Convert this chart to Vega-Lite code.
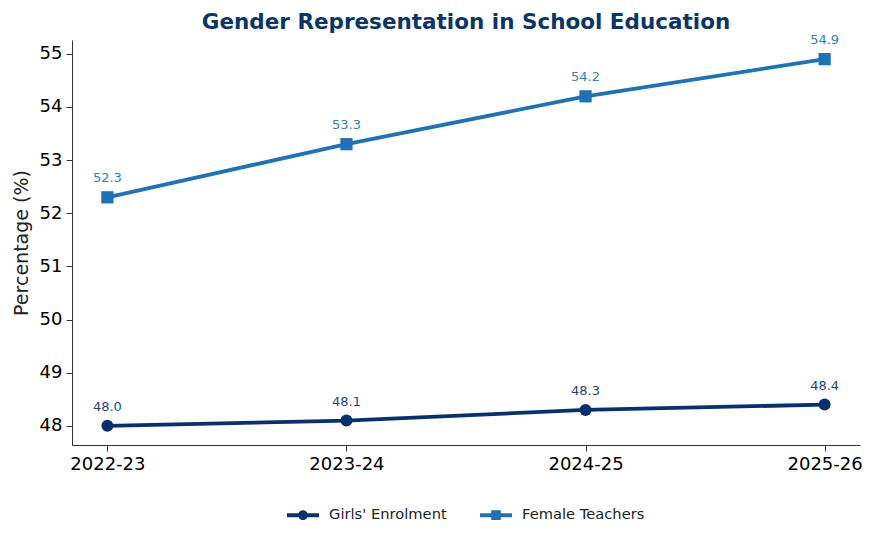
{
  "$schema": "https://vega.github.io/schema/vega-lite/v6.json",
  "width": 788,
  "height": 405,
  "autosize": {"type": "none"},
  "padding": {"left": 72, "top": 40, "right": 15, "bottom": 97},
  "background": "white",
  "title": {
    "text": "Gender Representation in School Education",
    "font": "DejaVu Sans",
    "fontSize": 21.5,
    "fontWeight": "bold",
    "color": "#0b3566",
    "anchor": "middle",
    "offset": 1
  },
  "config": {
    "view": {"stroke": null},
    "axis": {
      "labelFont": "DejaVu Sans",
      "titleFont": "DejaVu Sans",
      "labelColor": "#000000",
      "titleColor": "#222222",
      "domainColor": "#333333",
      "tickColor": "#333333",
      "grid": false
    },
    "legend": {
      "title": null,
      "orient": "none",
      "legendX": 215,
      "legendY": 459,
      "direction": "horizontal",
      "padding": 0,
      "labelFont": "DejaVu Sans",
      "labelFontSize": 14.7,
      "labelColor": "#222222",
      "symbolSize": 1024,
      "symbolStrokeWidth": 0,
      "symbolOpacity": 1,
      "columnPadding": 33,
      "labelOffset": 10
    }
  },
  "data": {
    "values": [
      {"year": "2022-23", "series": "Girls' Enrolment", "value": 48.0},
      {"year": "2023-24", "series": "Girls' Enrolment", "value": 48.1},
      {"year": "2024-25", "series": "Girls' Enrolment", "value": 48.3},
      {"year": "2025-26", "series": "Girls' Enrolment", "value": 48.4},
      {"year": "2022-23", "series": "Female Teachers", "value": 52.3},
      {"year": "2023-24", "series": "Female Teachers", "value": 53.3},
      {"year": "2024-25", "series": "Female Teachers", "value": 54.2},
      {"year": "2025-26", "series": "Female Teachers", "value": 54.9}
    ]
  },
  "encoding": {
    "x": {
      "field": "year",
      "type": "ordinal",
      "scale": {"type": "point", "padding": 0.148},
      "axis": {
        "title": null,
        "labelAngle": 0,
        "labelFontSize": 18,
        "tickSize": 6,
        "labelPadding": 4
      }
    },
    "y": {
      "field": "value",
      "type": "quantitative",
      "scale": {"domain": [47.64, 55.26], "nice": false, "zero": false},
      "axis": {
        "title": "Percentage (%)",
        "titleFontSize": 19,
        "titleFontWeight": "normal",
        "titlePadding": 8,
        "values": [48, 49, 50, 51, 52, 53, 54, 55],
        "labelFontSize": 18,
        "tickSize": 6,
        "labelPadding": 4
      }
    },
    "color": {
      "field": "series",
      "type": "nominal",
      "scale": {
        "domain": ["Girls' Enrolment", "Female Teachers"],
        "range": ["#08306b", "#2171b5"]
      }
    }
  },
  "layer": [
    {
      "mark": {"type": "line", "strokeWidth": 3.8},
      "encoding": {}
    },
    {
      "transform": [{"filter": "datum.series === \"Girls' Enrolment\""}],
      "mark": {"type": "point", "filled": true, "opacity": 1, "shape": "circle", "size": 144},
      "encoding": {}
    },
    {
      "transform": [{"filter": "datum.series === 'Female Teachers'"}],
      "mark": {"type": "point", "filled": true, "opacity": 1, "shape": "square", "size": 150},
      "encoding": {}
    },
    {
      "mark": {"type": "point", "filled": true, "opacity": 0, "size": 1024},
      "encoding": {
        "shape": {
          "field": "series",
          "type": "nominal",
          "scale": {
            "domain": ["Girls' Enrolment", "Female Teachers"],
            "range": [
              "M-1,-0.125H1V0.125H-1Z M0.3,0A0.3,0.3,0,1,1,-0.3,0A0.3,0.3,0,1,1,0.3,0Z",
              "M-1,-0.125H1V0.125H-1Z M-0.3,-0.3H0.3V0.3H-0.3Z"
            ]
          }
        }
      }
    },
    {
      "mark": {"type": "text", "dy": -19, "font": "DejaVu Sans", "fontSize": 13, "opacity": 0.9},
      "encoding": {
        "text": {"field": "value", "type": "quantitative", "format": ".1f"}
      }
    }
  ]
}
